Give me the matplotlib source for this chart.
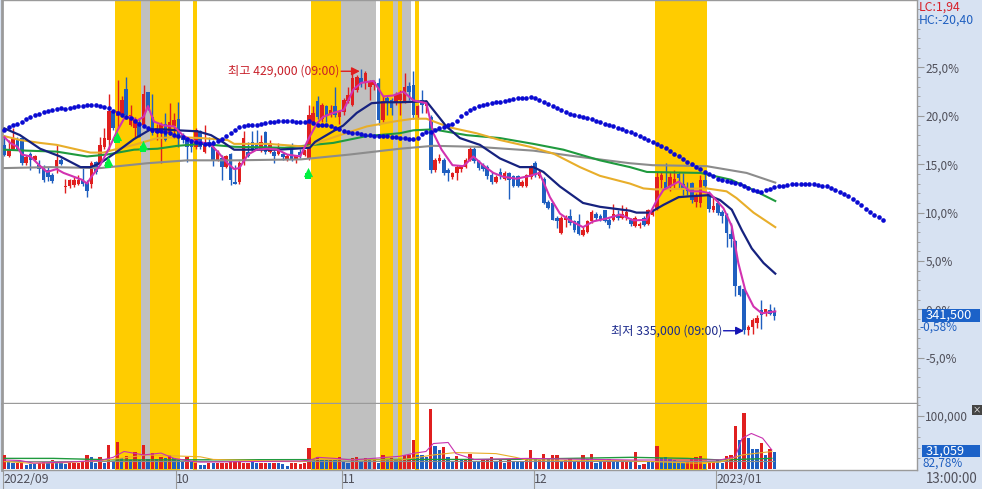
import matplotlib
matplotlib.use('Agg')
import matplotlib.pyplot as plt
from matplotlib.patches import Rectangle
import numpy as np

plt.rcParams['font.family'] = ['Noto Sans CJK KR', 'DejaVu Sans']

# candles, in % from the base price
body_top = [17.0,16.6,17.7,17.5,17.7,15.7,16.1,15.8,14.9,14.7,
            14.4,13.9,15.4,15.4,12.8,13.4,13.4,13.4,13.5,13.1,
            15.1,15.2,17.0,17.7,20.5,20.5,20.5,21.6,22.8,20.1,
            19.7,19.4,22.3,22.5,19.9,18.7,19.2,19.2,19.4,19.6,
            19.7,18.0,17.7,17.3,18.5,18.4,17.2,17.3,16.8,16.3,
            15.6,15.8,16.1,13.2,15.1,17.7,16.3,17.3,17.0,17.3,
            18.3,17.2,16.3,16.8,16.1,15.8,17.0,15.8,16.3,16.5,
            20.1,20.3,21.5,21.1,21.0,20.6,21.0,20.4,21.6,22.1,
            23.9,24.0,23.9,24.4,23.5,23.5,23.4,21.5,21.8,21.6,
            22.3,22.3,23.0,23.1,23.2,21.0,21.6,21.5,19.9,15.4,
            15.6,15.4,14.4,14.1,14.7,14.8,15.4,16.6,16.6,15.3,
            14.9,14.7,13.9,13.7,14.2,14.1,14.1,13.8,13.8,13.2,
            13.9,14.8,15.1,14.2,13.5,11.1,11.0,9.4,9.4,9.4,
            9.7,9.1,9.1,8.2,9.1,10.1,9.9,9.6,10.3,9.2,
            9.9,9.7,9.9,10.1,9.2,9.4,8.8,9.4,10.3,10.3,
            13.7,13.9,13.2,13.7,13.5,14.0,13.0,12.5,13.1,11.7,
            13.4,13.4,12.0,10.7,11.0,10.1,9.8,7.8,7.1,2.4,
            2.1,-1.8,-1.1,-0.9,-0.1,0.0,-0.1,-0.3]
body_bot = [16.0,15.8,16.6,16.6,15.1,15.1,15.4,15.4,14.5,13.4,
            13.7,13.3,14.7,15.0,12.6,12.7,12.9,13.0,13.0,12.2,
            13.0,14.2,15.1,16.8,17.5,18.7,20.0,20.1,20.1,19.0,
            18.7,17.8,19.0,20.8,18.2,18.2,18.2,17.5,18.2,18.9,
            17.7,17.5,16.8,16.8,16.8,16.8,16.3,17.0,15.4,15.4,
            14.7,14.7,13.4,13.0,13.2,15.1,15.8,16.5,16.6,16.5,
            16.3,16.3,15.8,16.1,15.7,15.5,15.4,15.5,15.9,15.9,
            15.6,19.4,19.9,19.7,20.1,20.1,20.1,19.9,20.4,21.5,
            21.1,22.7,23.4,23.5,23.0,23.2,19.6,19.6,21.3,20.8,
            21.3,21.6,21.5,22.5,20.1,20.1,21.1,21.0,14.4,14.4,
            15.3,14.1,14.1,13.7,14.1,14.5,14.7,15.4,15.3,14.6,
            14.5,13.8,13.2,13.2,13.8,13.5,13.4,12.7,12.7,12.7,
            12.7,13.7,13.9,13.8,11.0,10.5,9.2,9.1,7.9,9.2,
            8.9,8.2,7.8,7.7,8.0,9.1,9.4,9.2,9.1,8.7,
            9.2,9.4,9.4,9.4,8.8,8.6,8.6,8.7,8.8,9.8,
            10.4,13.4,12.5,12.7,13.0,13.6,12.4,12.2,11.3,11.1,
            11.0,12.7,10.4,10.3,10.0,9.6,7.9,7.3,2.4,1.5,
            -2.1,-2.1,-1.8,-1.4,-0.6,-0.4,-0.5,-0.7]
high = [18.0,17.5,18.7,17.8,17.8,16.0,16.3,16.0,15.4,14.9,
        14.7,14.1,17.0,15.6,13.5,13.5,13.7,13.9,14.6,13.4,
        15.3,15.3,17.8,18.7,22.2,20.6,23.7,22.0,24.0,21.1,
        19.9,19.7,23.2,22.5,22.3,19.2,19.4,20.3,21.3,20.3,
        21.4,18.2,17.8,17.6,18.7,18.5,19.0,17.8,17.5,16.5,
        16.0,16.0,16.2,14.9,15.3,18.4,17.3,18.4,18.5,18.0,
        18.4,17.5,16.6,17.2,16.3,16.1,17.2,16.0,16.6,16.5,
        21.1,21.0,22.0,21.3,21.1,21.1,23.0,20.6,21.8,23.0,
        24.4,24.2,24.8,24.6,23.7,23.7,23.9,22.0,22.0,21.8,
        22.5,22.7,24.4,23.5,24.6,21.1,22.7,21.6,20.1,15.6,
        16.1,15.6,14.6,14.2,14.9,14.9,15.6,16.8,16.8,15.4,
        15.1,14.9,14.2,13.9,14.6,14.3,14.2,13.9,13.9,13.4,
        14.0,14.9,15.3,14.4,13.7,11.3,11.1,9.6,9.6,9.8,
        10.4,9.2,9.9,8.5,9.2,10.3,10.1,9.9,10.3,9.4,
        10.9,10.3,10.8,10.6,9.4,9.6,9.0,9.6,10.4,10.4,
        14.2,14.2,15.1,14.2,14.4,14.2,14.1,13.2,13.2,12.0,
        13.9,14.0,12.2,11.6,11.3,10.3,10.0,8.9,7.2,2.5,
        2.2,-1.6,-0.9,-0.6,1.0,0.0,0.6,0.3]
low = [15.8,15.7,16.5,16.5,14.9,14.9,14.4,15.3,14.1,13.2,
       13.3,13.1,14.1,14.9,12.0,12.5,12.6,12.9,12.7,11.6,
       12.5,14.0,14.9,16.6,16.5,18.5,18.7,19.9,19.7,18.9,
       17.8,17.8,18.9,20.6,18.0,17.5,15.1,17.4,18.0,17.7,
       16.8,17.2,15.2,16.3,16.6,16.6,16.2,16.8,14.8,15.3,
       13.4,14.6,12.9,13.0,13.0,14.9,15.7,16.3,16.5,16.3,
       16.1,16.2,15.1,15.9,15.4,15.3,15.3,15.1,15.6,15.8,
       15.4,19.2,19.7,19.4,19.4,19.9,19.9,19.2,20.1,21.3,
       21.0,22.5,23.0,22.8,21.6,22.7,19.0,19.4,20.1,20.1,
       21.1,20.1,21.3,21.6,19.7,19.7,20.3,20.3,14.1,14.2,
       15.1,13.9,13.3,13.5,13.4,14.2,14.6,15.3,15.1,14.4,
       14.3,13.5,13.0,13.1,13.5,13.4,11.4,12.6,12.6,12.6,
       12.6,13.5,13.7,13.6,10.9,10.4,9.2,8.4,7.8,8.5,
       8.7,8.0,7.7,7.6,7.9,8.9,9.2,9.1,9.0,8.4,
       9.1,9.2,9.3,9.2,8.6,8.5,8.4,8.6,8.7,9.6,
       10.3,12.4,12.4,12.2,12.5,12.5,11.8,11.8,11.0,10.6,
       10.6,12.5,10.1,10.1,9.8,8.9,6.4,6.4,1.4,1.4,
       -2.5,-2.6,-2.5,-1.9,-2.0,-0.7,-0.6,-1.1]
candle_side = ('brrbbrbrbb' 'bbrbrrrrbb' 'rbrrrbrrbr' 'rbrbbrrbrr' 'bbbbrbrbbr' 'brbbrrbbbr'
               'brbrbrbrbr' 'rrbrbrbrrr' 'rrbrrrbrbb' 'rrrbbrbrbr' 'rbbrrrrrbb' 'bbbrbrbbbr'
               'rrbrbbbbrr' 'bbbrrrbbbb' 'rbrrbrrbrr' 'rrbrrbbbbr' 'rbbrbbbbbb' 'brrrbrbb')

# volume, in thousands
volume = [26.5,14,12,10.7,10.7,7.5,9,9.5,10.7,15,
          10.7,17,10.7,10.7,9,10.7,10.7,10.7,14,26.5,
          23,10.7,22,10.7,45,14,51,20,24.5,17,
          31.5,17,45,18,30,18,22,20,26.5,20,
          17,14,22,14,10.7,7.5,7.5,10.7,10.7,10.7,
          10.7,12,13,13,13,12,12,13,10.7,10.7,
          10.7,10.7,10.7,10.7,9,6.5,10.7,10.7,9.5,10.7,
          39,18,22,18,18,18,17,22,14,12,
          20,22,14,20,17,17,12,26.5,18,20,
          17,17,26.5,26.5,55,26.5,26.5,23,113,43.5,
          36,42,23,14,24.5,18,18,28,15.7,15.7,
          17,17,22,14,18,10.7,17,14,12.6,12.6,
          18,36,18,17,28,18,26.5,26.5,14,17,
          18,15.7,15.7,26.5,18,28,12,12.6,14,18,
          15.7,14,14,15.7,15.7,31.5,7.5,9.5,15,15,
          43.5,20,23,18,17,14,10.7,14,18,23,
          24.5,9.5,14,15.7,17,12,24.5,26.5,81,55,
          105,58,38,38,48.5,26.5,37,32.7]
volume_side = ('rbbrrbbbrr' 'brbbbrrrrr' 'bbrbrbrbrb' 'rbrbrbrbrb' 'bbrbrbbrbr' 'rrrrrrrbbr'
               'rbrbbbrrrr' 'rbrbbrbrbb' 'rrbrbrbrbr' 'brrrrbbbrb' 'brbbrbrrbb' 'rrrbrbrbbb'
               'rrbrrbrrbr' 'rbrrbrbbrr' 'bbrrbrbrbb' 'rbbbbbbrrr' 'rbrrbbrrrb' 'rbbbrbrb')

# moving averages: (candle number, %)
pink_x = [0,1.3,3,4,6,8,9.8,12,13.6,16,17.8,19,20,22,24,26,27.5,29,30.5,32,33,34.4,36.7,39,41,42.8,45,
          47.5,49,51.3,52.8,54,56,58,60.5,62.8,65,68,70,71.8,73.3,75.6,78,80.2,82,84.8,86,87.1,89.4,
          91.7,94,97,98.6,100.5,103,105.5,107.8,110,112.4,114.7,117.7,120.8,123,125.4,127.7,130,133,
          135.4,138.5,141.5,144.6,147.6,150,151.5,155,157.6,160,162.2,165.3,167.2,168.7,170.3,172.2,174.1,177.2]
pink_y = [17.8,17.2,16.8,16.0,15.8,14.9,14.2,14.5,14.1,13.7,13.4,13.0,13.7,14.9,16.6,18.5,19.7,19.9,19.5,19.9,21.0,19.4,19.0,18.9,18.0,17.5,17.3,
          17.0,16.3,15.1,14.5,14.6,16.0,16.5,16.6,16.5,16.0,15.8,17.7,19.2,19.9,20.3,20.6,22.7,23.4,23.6,22.8,22.0,22.1,
          22.5,21.6,21.3,18.2,16.5,14.9,14.8,15.8,14.9,14.1,13.7,13.5,13.8,14.1,11.6,9.9,9.2,8.5,
          9.1,9.4,9.8,9.2,9.25,11.3,12.35,13.2,12.2,12.2,12.0,10.45,8.6,4.8,2.0,0.3,-0.4,-0.2]
navy_x = [0,3.6,8.2,12.8,17.5,19.8,22,25.9,29.8,33.6,36.7,39.8,44.4,47.5,50.5,52.8,57.5,62.8,66.7,70.2,
          71.4,74.8,77.9,81,84.4,87.1,90.9,97,98.6,101.6,104.7,109.3,113.9,118.5,121.6,123.9,127.7,133,136.9,143.8,
          145.3,148.4,151.5,155,158,161.8,164.5,167.2,169.5,171.8,174.5,177.2]
navy_y = [18.7,18.0,16.6,15.8,14.7,14.7,15.1,16.3,17.6,18.6,18.6,18.5,18.4,18.0,17.2,16.5,16.5,16.5,16.6,16.7,
          17.3,18.2,19.0,20.3,21.3,21.4,21.4,21.5,20.6,18.9,17.7,17.0,15.6,14.7,14.7,14.2,12.7,11.0,10.6,10.2,
          10.0,10.0,10.8,11.6,11.7,11.8,11.3,10.3,8.2,6.3,4.8,3.7]
orange_x = [0,3.6,8.2,12,15.9,19.8,22.8,25.2,29.8,35.2,39.8,45.2,51.3,52.8,60.5,69.8,
            72.5,77.1,83.3,89.4,94,97,102.4,108.5,113.9,120.8,126.2,132.3,136.9,143.8,
            146.9,149.5,161.4,166,168.3,172.2,177.2]
orange_y = [17.9,17.5,17.2,17.0,16.6,16.2,16.2,16.5,17.0,17.7,17.8,17.7,17.5,17.1,17.1,16.8,
            17.3,18.0,18.9,19.4,19.7,19.7,18.8,18.2,17.5,16.8,16.1,14.7,13.8,13.0,
            12.5,12.4,12.5,12.2,11.5,10.0,8.5]
green_x = [0,5.2,12,19,23.6,29.8,35.2,39.8,45.2,52.8,64.4,75.6,83.2,90.9,94,98.6,106.3,113.9,121.6,128.5,136.9,143.8,
           147.7,160,167,171.4,177.2]
green_y = [16.5,16.4,16.3,15.8,16.0,16.5,16.6,16.9,17.1,16.8,16.7,17.2,17.9,18.2,18.5,18.6,18.0,17.7,17.1,16.5,15.4,14.7,
           14.2,14.1,13.4,12.5,11.2]
gray_x = [0,10.5,22,32.8,42,52.8,68.2,79.4,90.9,98.6,108.5,121.6,131.5,143.8,149,161.4,170.6,177.2]
gray_y = [14.6,14.7,14.6,15.1,15.4,15.4,15.5,16.0,16.6,16.9,16.8,16.4,15.8,15.1,14.9,14.8,14.1,13.1]

# dotted line, one dot per candle, runs on past the last candle
dots = [18.5,18.8,19.1,19.2,19.4,19.7,19.9,20.1,20.2,20.4,20.5,20.6,20.7,20.8,20.7,20.8,20.9,21.0,21.0,21.1,
        21.1,21.1,21.0,20.9,20.8,20.5,20.3,20.1,19.9,19.8,19.5,19.2,18.9,18.7,18.5,18.4,18.4,18.3,18.2,18.0,
        17.9,17.8,17.6,17.4,17.3,17.2,17.1,17.1,17.2,17.4,17.6,17.9,18.2,18.5,18.8,18.9,19.0,19.1,19.1,19.2,
        19.3,19.4,19.4,19.5,19.5,19.5,19.5,19.4,19.4,19.4,19.5,19.3,19.1,19.1,19.0,18.9,18.7,18.6,18.4,18.3,
        18.2,18.2,18.1,18.0,18.0,17.9,17.9,17.9,17.9,17.8,17.8,17.7,17.7,17.6,17.6,17.7,18.1,18.3,18.3,18.5,
        18.7,18.8,19.0,19.2,19.5,20.0,20.3,20.6,20.8,21.0,21.1,21.2,21.3,21.4,21.4,21.5,21.6,21.7,21.8,21.8,
        21.8,21.9,21.8,21.6,21.4,21.2,21.0,20.8,20.6,20.4,20.2,20.1,20.0,19.9,19.8,19.7,19.5,19.4,19.2,19.0,
        18.9,18.7,18.6,18.4,18.3,18.1,17.9,17.7,17.5,17.3,17.1,16.9,16.7,16.4,16.1,15.8,15.5,15.2,15.0,14.7,
        14.5,14.2,14.0,13.8,13.5,13.4,13.3,13.2,13.1,13.0,12.7,12.5,12.3,12.2,12.1,12.3,12.4,12.6,12.8,12.8,
        12.9,13.0,13.0,13.0,13.0,13.0,13.0,12.9,12.8,12.7,12.5,12.3,12.1,11.9,11.7,11.4,11.1,10.8,10.4,10.1,
        9.8,9.5,9.2]

# lines in the volume panel, thousands
vpink_x = [0,3.6,6.7,14.4,22,25,27.5,32,36,39,43.6,45,68,70.5,72,76,80,90.9,94.4,96.9,98.6,102,103.8,108,120,144,149,157,164.5,168,169.6,171.7,174.3,176.4]
vpink_y = [17,16,11,13,16,22,33,26.5,30,20,14,13,15,17,22,20,17,24,30,33,48,50,29,18,20,17,17,17,17,23,58,67,58,36]
vorange_x = [0,6,14.4,23.6,32.8,45,48,68,72,91,93.5,98.6,103.8,113,117.5,120,142,159,164.5,169.6,176.4]
vorange_y = [14,11,12,17,26.5,23,18,14,18,17,20,26.5,31,29,22,17,16,11,13,26.5,33]
vgreen_x = [0,11.3,26,91,116,144,157,164.5,176.4]
vgreen_y = [20,20,17,18,18,22,20,17,20]
vgray_x = [0,177]
vgray_y = [16,16]

# highlighted periods, in candle numbers
band_start = [25.4,31.4,33.5,43.4,70.5,77.4,86.3,89.3,90.5,91.4,94.4,149.6]
band_end = [31.4,33.5,40.4,44.3,77.4,85.4,89.3,90.5,91.4,93.5,95.3,161.5]
band_kind = ['y','g','y','y','y','g','y','g','y','g','y','y']

# buy signals
signal_x = [23.8,25.9,31.9,69.8]
signal_y = [15.3,17.9,17.0,14.2]

month_pos = [-0.3,39.4,77.6,121.7,163.6]
month_labels = ['2022/09','10','11','12','2023/01']
pct_ticks = [-5,0,5,10,15,20,25]

RED = '#e01f1f'
BLUE = '#1f5fc0'
PANEL = '#d7e2f2'
EDGE = '#9a9a9a'
TEXT = '#50505a'
band_colors = {'y': '#ffcc00', 'g': '#c0c0c0'}

W, H = 982, 489
fig = plt.figure(figsize=(W / 100 + 0.001, H / 100 + 0.001), dpi=100, facecolor=PANEL)
ax = fig.add_axes([2 / W, (H - 403) / H, 915 / W, 403 / H])
vol = fig.add_axes([2 / W, (H - 470) / H, 915 / W, 66 / H], sharex=ax)

n = len(body_top)
xs = np.arange(n)
top = np.array(body_top)
bot = np.array(body_bot)
c = [RED if s == 'r' else BLUE for s in candle_side]
vc = [RED if s == 'r' else BLUE for s in volume_side]

for a in (ax, vol):
    for s, e, k in zip(band_start, band_end, band_kind):
        a.axvspan(s, e, color=band_colors[k], lw=0, zorder=1)

# candles
ax.vlines(xs, low, high, colors=c, lw=1.0, zorder=3)
ax.bar(xs, top - bot, bottom=bot, width=0.82, color=c, lw=0, zorder=4)

ax.plot(gray_x, gray_y, color='#8c8c8c', lw=1.5, zorder=5)
ax.plot(green_x, green_y, color='#1f9a3e', lw=1.5, zorder=5)
ax.plot(orange_x, orange_y, color='#e8ae2a', lw=1.5, zorder=5)
ax.plot(navy_x, navy_y, color='#16227f', lw=1.6, zorder=6)
ax.plot(pink_x, pink_y, color='#d232b0', lw=1.5, zorder=6)
ax.scatter(np.arange(len(dots)), dots, s=11, color='#0a0ad2', lw=0, zorder=7)

ax.scatter(signal_x, signal_y, marker='^', s=44, color='#00f040', lw=0, zorder=8)
ax.scatter(signal_x, np.array(signal_y) - 0.4, marker='s', s=14, color='#00f040', lw=0, zorder=8)

# high and low notes
ax.text(77.1, 24.6, '최고 429,000 (09:00)', color='#c8202a', fontsize=8.8, ha='right', va='center', zorder=9)
ax.annotate('', xy=(81.7, 24.6), xytext=(77.4, 24.6), zorder=9,
            arrowprops=dict(arrowstyle='-|>', color=RED, lw=1, mutation_scale=12, shrinkA=0, shrinkB=0))
ax.text(165, -2.2, '최저 335,000 (09:00)', color='#1c2a8c', fontsize=8.8, ha='right', va='center', zorder=9)
ax.annotate('', xy=(170, -2.2), xytext=(165.3, -2.2), zorder=9,
            arrowprops=dict(arrowstyle='-|>', color='#1414b4', lw=1, mutation_scale=12, shrinkA=0, shrinkB=0))

ax.set_xlim(-0.55, 209.8)
ax.set_ylim(-9.66, 31.97)
ax.yaxis.tick_right()
ax.set_yticks(pct_ticks)
ax.set_yticklabels([f'{t},0%' if t >= 0 else f'-{abs(t)},0%' for t in pct_ticks], color=TEXT, fontsize=8.5)
ax.set_yticks(np.arange(-9, 32, 1), minor=True)
ax.tick_params(axis='y', which='major', length=5, width=0.8, color=EDGE, pad=1)
ax.tick_params(axis='y', which='minor', length=2.5, width=0.6, color=EDGE)
ax.tick_params(axis='x', which='both', bottom=False, labelbottom=False)

# volume panel
vol.bar(xs, volume, width=0.75, color=vc, lw=0, zorder=3)
vol.plot(vgray_x, vgray_y, color='#8c8c8c', lw=0.8, zorder=4)
vol.plot(vgreen_x, vgreen_y, color='#1f9a3e', lw=1.0, zorder=4)
vol.plot(vorange_x, vorange_y, color='#e8ae2a', lw=0.8, zorder=4)
vol.plot(vpink_x, vpink_y, color='#c832b0', lw=0.8, zorder=5)
vol.set_ylim(-1.9, 122.6)
vol.yaxis.tick_right()
vol.set_yticks([100])
vol.set_yticklabels(['100,000'], color=TEXT, fontsize=8.5)
vol.set_yticks([20, 40, 60, 80, 120], minor=True)
vol.tick_params(axis='y', which='major', length=5, width=0.8, color=EDGE, pad=1)
vol.tick_params(axis='y', which='minor', length=2.5, width=0.6, color=EDGE)
vol.set_xticks(month_pos)
vol.set_xticklabels(month_labels, color=TEXT, fontsize=8.8, ha='left')
vol.tick_params(axis='x', length=13.7, width=0.8, color=EDGE, pad=-11.5)

for a in (ax, vol):
    for s in ('top', 'left', 'right', 'bottom'):
        a.spines[s].set_color(EDGE)
        a.spines[s].set_linewidth(1)
    a.spines['left'].set_linewidth(2)
vol.spines['top'].set_visible(False)

# right hand readouts
ytr = ax.get_yaxis_transform()
ax.add_patch(Rectangle((1.0055, -1.3), 0.0634, 1.35, transform=ytr, fc='#1c62c8', ec='none', clip_on=False, zorder=9))
ax.text(1.009, -0.6, '341,500', transform=ytr, color='white', fontsize=9.2, va='center',
        ha='left', zorder=10, clip_on=False)
ax.text(1.003, -1.8, '-0,58%', transform=ytr, color=BLUE, fontsize=8.5, va='center',
        ha='left', clip_on=False)
vtr = vol.get_yaxis_transform()
vol.add_patch(Rectangle((1.0055, 22.5), 0.0634, 23, transform=vtr, fc='#1c62c8', ec='none', clip_on=False, zorder=9))
vol.text(1.009, 34, '31,059', transform=vtr, color='white', fontsize=9.2, va='center',
         ha='left', clip_on=False, zorder=10)
vol.text(1.006, 11, '82,78%', transform=vtr, color=BLUE, fontsize=8.5, va='center',
         ha='left', clip_on=False)
fig.text(919 / W, 1 - 7 / H, 'LC:1,94', color='#d8202a', fontsize=8.8, va='center')
fig.text(919 / W, 1 - 20 / H, 'HC:-20,40', color=BLUE, fontsize=8.8, va='center')
fig.text(926 / W, 1 - 479 / H, '13:00:00', color=TEXT, fontsize=9.6, va='center')
fig.text(977 / W, 1 - 410 / H, '×', color='white', fontsize=6, va='center', ha='center',
         bbox=dict(boxstyle='square,pad=0.1', fc='#444444', ec='none'))

fig.savefig('out.png', dpi=100, facecolor=PANEL)
